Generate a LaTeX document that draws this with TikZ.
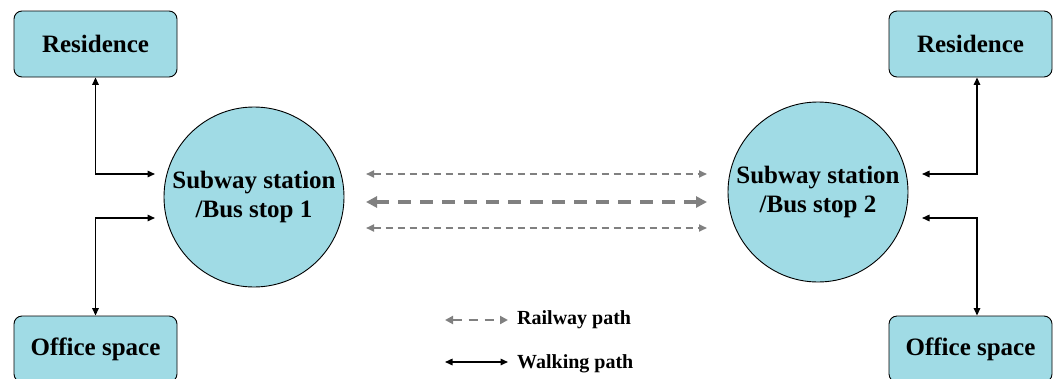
\documentclass[tikz,border=0pt]{standalone}
\usepackage{fontspec}
\setmainfont{Liberation Serif}
\usetikzlibrary{arrows.meta}
\definecolor{boxfill}{RGB}{160,219,229}
\definecolor{railgray}{RGB}{128,128,128}
\begin{document}
\begin{tikzpicture}[x=1pt,y=-1pt,
  place/.style={draw=black,line width=0.9pt,fill=boxfill,rounded corners=8pt,
    minimum width=163pt,minimum height=66pt,inner sep=0pt,
    font=\fontsize{25}{29}\selectfont\bfseries},
  stop/.style={draw=black,line width=0.9pt,fill=boxfill,circle,minimum size=180pt,
    inner sep=0pt,align=center,font=\fontsize{25}{29.5}\selectfont\bfseries},
  walk/.style={line width=1.5pt,{Triangle[length=7.5pt,width=6.5pt]}-{Triangle[length=7.5pt,width=6.5pt]}},
  railthin/.style={railgray,line width=1.8pt,dash pattern=on 7pt off 5pt,
    {Triangle[length=8pt,width=7pt]}-{Triangle[length=8pt,width=7pt]}},
  railthick/.style={railgray,line width=3.6pt,dash pattern=on 13pt off 9pt,
    {Triangle[length=11pt,width=11pt]}-{Triangle[length=11pt,width=11pt]}},
  legend/.style={anchor=west,inner sep=0pt,font=\fontsize{20}{24}\selectfont\bfseries}]
\useasboundingbox (0,0) rectangle (1057,378);

% left side
\node[place] (res1) at (95.5,44) {Residence};
\node[place] (off1) at (95.5,349) {\raisebox{-2pt}{Office space}};
\node[stop] (sub1) at (254,197) {Subway station\\/Bus stop 1};

% right side
\node[place] (res2) at (970.5,44) {Residence};
\node[place] (off2) at (970.5,349) {\raisebox{-2pt}{Office space}};
\node[stop] (sub2) at (818,192) {Subway station\\/Bus stop 2};

% walking connectors
\coordinate (w1) at (155,174);
\coordinate (w2) at (155,218);
\coordinate (w3) at (922,174);
\coordinate (w4) at (922,218);
\draw[walk] (w1) -| (res1.south);
\draw[walk] (w2) -| (off1.north);
\draw[walk] (w3) -| ([xshift=6.5pt]res2.south);
\draw[walk] (w4) -| ([xshift=6.5pt]off2.north);

% railway connectors
\coordinate (ra) at (366,174);
\coordinate (rb) at (707,174);
\coordinate (rc) at (366,202);
\coordinate (rd) at (707,202);
\coordinate (re) at (366,228);
\coordinate (rf) at (707,228);
\draw[railthin] (ra) -- (rb);
\draw[railthick] (rc) -- (rd);
\draw[railthin] (re) -- (rf);

% legend
\coordinate (la) at (445,320);
\coordinate (lb) at (508,320);
\coordinate (lc) at (445,362);
\coordinate (ld) at (508,362);
\draw[railgray,line width=2.2pt,dash pattern=on 9pt off 7pt,
  {Triangle[length=8pt,width=8pt]}-{Triangle[length=8pt,width=8pt]}] (la) -- (lb);
\draw[walk] (lc) -- (ld);
\node[legend] (lrail) at (517,320) {Railway path};
\node[legend] (lwalk) at (517,364) {Walking path};
\end{tikzpicture}
\end{document}
